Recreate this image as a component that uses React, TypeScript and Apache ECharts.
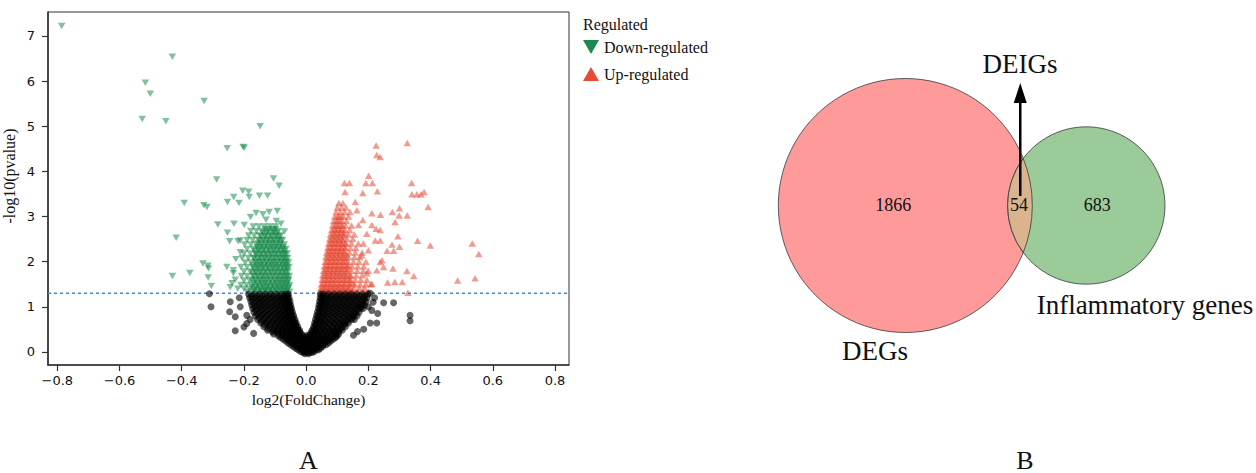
import React, { useEffect, useRef } from "react";
import * as echarts from "echarts";

// ---------------- Panel A data (volcano plot) ----------------
const xTicks = [-0.8, -0.6, -0.4, -0.2, 0, 0.2, 0.4, 0.6, 0.8];
const yTicks = [0, 1, 2, 3, 4, 5, 6, 7];
const pThreshold = 1.3;
const legendTitle = "Regulated";
const downName = "Down-regulated";
const upName = "Up-regulated";

// isolated down-regulated genes [log2FC, -log10 p]
const downLoose: number[][] = [
  [-0.786, 7.22], [-0.43, 6.54], [-0.517, 5.96], [-0.501, 5.72], [-0.328, 5.56], [-0.527, 5.16],
  [-0.451, 5.11], [-0.148, 5.0], [-0.254, 4.51], [-0.203, 4.54], [-0.199, 4.52], [-0.288, 3.82],
  [-0.105, 3.84], [-0.087, 3.68], [-0.204, 3.57], [-0.185, 3.55], [-0.233, 3.43], [-0.183, 3.43],
  [-0.15, 3.46], [-0.124, 3.46], [-0.392, 3.3], [-0.329, 3.25], [-0.319, 3.21], [-0.253, 3.32],
  [-0.216, 3.3], [-0.179, 2.99], [-0.161, 3.08], [-0.139, 3.05], [-0.119, 3.1], [-0.093, 3.12],
  [-0.129, 2.93], [-0.096, 2.9], [-0.284, 2.82], [-0.232, 2.84], [-0.199, 2.81], [-0.081, 2.84],
  [-0.07, 2.67], [-0.253, 2.64], [-0.246, 2.45], [-0.418, 2.53], [-0.212, 2.47], [-0.332, 1.96],
  [-0.316, 1.91], [-0.314, 1.85], [-0.374, 1.75], [-0.43, 1.68], [-0.315, 1.65], [-0.305, 1.46],
  [-0.255, 1.88], [-0.234, 1.74], [-0.244, 1.43], [-0.22, 1.4], [-0.219, 2.45], [-0.212, 2.21],
  [-0.234, 1.81], [-0.226, 2.05], [-0.228, 1.6], [-0.238, 1.52]
];
// down-regulated cloud, rows of [-log10 p, log2FC values]
const downRows: [number, number[]][] = [
  [2.78, [-0.17, -0.152, -0.134, -0.116, -0.098]],
  [2.68, [-0.178, -0.16, -0.142, -0.124, -0.106, -0.09]],
  [2.58, [-0.185, -0.167, -0.149, -0.131, -0.113, -0.096, -0.082]],
  [2.48, [-0.19, -0.172, -0.154, -0.138, -0.122, -0.106, -0.09, -0.076]],
  [2.38, [-0.198, -0.178, -0.16, -0.144, -0.128, -0.112, -0.096, -0.082, -0.07]],
  [2.28, [-0.19, -0.17, -0.152, -0.136, -0.12, -0.104, -0.088, -0.074, -0.065]],
  [2.18, [-0.2, -0.18, -0.162, -0.146, -0.13, -0.114, -0.098, -0.082, -0.068, -0.061]],
  [2.08, [-0.206, -0.186, -0.168, -0.15, -0.134, -0.118, -0.102, -0.086, -0.072, -0.059]],
  [1.98, [-0.196, -0.178, -0.16, -0.143, -0.127, -0.111, -0.095, -0.08, -0.067, -0.057]],
  [1.88, [-0.21, -0.19, -0.172, -0.155, -0.139, -0.123, -0.107, -0.091, -0.076, -0.063, -0.055]],
  [1.78, [-0.2, -0.18, -0.163, -0.147, -0.131, -0.115, -0.099, -0.084, -0.07, -0.058]],
  [1.68, [-0.208, -0.19, -0.172, -0.155, -0.139, -0.123, -0.107, -0.091, -0.076, -0.063, -0.054]],
  [1.58, [-0.2, -0.182, -0.164, -0.147, -0.131, -0.115, -0.099, -0.084, -0.07, -0.057]],
  [1.48, [-0.21, -0.192, -0.174, -0.156, -0.14, -0.124, -0.108, -0.092, -0.077, -0.064, -0.053]],
  [1.4, [-0.2, -0.182, -0.165, -0.148, -0.132, -0.116, -0.1, -0.085, -0.071, -0.058]],
  [1.33, [-0.19, -0.172, -0.155, -0.139, -0.123, -0.107, -0.092, -0.077, -0.064, -0.053]]
];
// densest part of the down-regulated cloud
const downCore: [number, number[]][] = [
  [1.36, [-0.168, -0.156, -0.144, -0.132, -0.12, -0.108, -0.096, -0.084, -0.072, -0.061]],
  [1.44, [-0.174, -0.162, -0.15, -0.138, -0.126, -0.114, -0.102, -0.09, -0.078, -0.066, -0.056]],
  [1.52, [-0.168, -0.156, -0.144, -0.132, -0.12, -0.108, -0.096, -0.084, -0.072, -0.061]],
  [1.6, [-0.174, -0.162, -0.15, -0.138, -0.126, -0.114, -0.102, -0.09, -0.078, -0.066, -0.057]],
  [1.68, [-0.168, -0.156, -0.144, -0.132, -0.12, -0.108, -0.096, -0.084, -0.072, -0.062]],
  [1.76, [-0.172, -0.16, -0.148, -0.136, -0.124, -0.112, -0.1, -0.088, -0.076, -0.065]],
  [1.84, [-0.168, -0.156, -0.144, -0.132, -0.12, -0.108, -0.096, -0.084, -0.072, -0.062]],
  [1.92, [-0.17, -0.158, -0.146, -0.134, -0.122, -0.11, -0.098, -0.086, -0.074, -0.064]],
  [2.0, [-0.165, -0.153, -0.141, -0.129, -0.117, -0.105, -0.093, -0.081, -0.07, -0.062]],
  [2.08, [-0.168, -0.156, -0.144, -0.132, -0.12, -0.108, -0.096, -0.084, -0.073, -0.065]],
  [2.16, [-0.162, -0.15, -0.138, -0.126, -0.114, -0.102, -0.09, -0.078, -0.068]],
  [2.24, [-0.165, -0.153, -0.141, -0.129, -0.117, -0.105, -0.093, -0.081, -0.071]],
  [2.32, [-0.158, -0.146, -0.134, -0.122, -0.11, -0.098, -0.086, -0.075]],
  [2.4, [-0.155, -0.143, -0.131, -0.119, -0.107, -0.095, -0.083]],
  [2.48, [-0.15, -0.138, -0.126, -0.114, -0.102, -0.09, -0.081]],
  [2.56, [-0.145, -0.133, -0.121, -0.109, -0.097, -0.087]],
  [2.64, [-0.14, -0.128, -0.116, -0.104, -0.094]],
  [2.72, [-0.132, -0.12, -0.108, -0.098]]
];

// isolated up-regulated genes
const upLoose: number[][] = [
  [0.225, 4.57], [0.325, 4.63], [0.227, 4.36], [0.238, 4.32], [0.201, 3.9], [0.192, 3.74],
  [0.213, 3.74], [0.123, 3.74], [0.139, 3.74], [0.125, 3.54], [0.182, 3.52], [0.229, 3.56],
  [0.339, 3.74], [0.34, 3.49], [0.356, 3.49], [0.369, 3.49], [0.379, 3.54], [0.392, 3.21],
  [0.277, 3.1], [0.3, 3.18], [0.286, 2.88], [0.299, 3.02], [0.325, 3.02], [0.239, 3.04],
  [0.295, 2.56], [0.3, 2.33], [0.276, 2.38], [0.26, 2.24], [0.281, 2.24], [0.358, 2.46],
  [0.399, 2.36], [0.534, 2.4], [0.555, 2.17], [0.487, 1.58], [0.543, 1.63], [0.324, 1.79],
  [0.346, 1.68], [0.262, 1.54], [0.285, 1.55], [0.309, 1.55], [0.327, 1.31], [0.279, 1.85],
  [0.249, 1.88], [0.238, 1.99], [0.211, 1.51], [0.158, 3.32], [0.163, 3.14], [0.141, 3.1],
  [0.182, 2.92], [0.211, 3.07], [0.168, 2.81], [0.211, 2.81], [0.225, 2.73], [0.238, 2.7],
  [0.195, 2.62], [0.222, 2.47], [0.238, 2.47], [0.184, 2.4], [0.2, 2.25], [0.179, 2.14],
  [0.244, 2.03], [0.227, 1.81], [0.195, 1.74]
];
const upRows: [number, number[]][] = [
  [3.3, [0.105, 0.118]],
  [3.2, [0.1, 0.114, 0.128]],
  [3.1, [0.096, 0.11, 0.124]],
  [3.0, [0.092, 0.106, 0.12, 0.136]],
  [2.9, [0.088, 0.102, 0.116, 0.13]],
  [2.8, [0.085, 0.099, 0.113, 0.127, 0.146]],
  [2.7, [0.082, 0.096, 0.11, 0.124, 0.14]],
  [2.6, [0.078, 0.092, 0.106, 0.12, 0.136, 0.155]],
  [2.5, [0.075, 0.089, 0.103, 0.117, 0.132, 0.15]],
  [2.4, [0.072, 0.086, 0.1, 0.114, 0.129, 0.146, 0.168]],
  [2.3, [0.069, 0.083, 0.097, 0.111, 0.126, 0.142, 0.16]],
  [2.2, [0.066, 0.08, 0.094, 0.108, 0.123, 0.139, 0.158, 0.18]],
  [2.1, [0.063, 0.077, 0.091, 0.105, 0.12, 0.136, 0.155, 0.172]],
  [2.0, [0.061, 0.075, 0.089, 0.103, 0.118, 0.134, 0.152, 0.17, 0.192]],
  [1.9, [0.058, 0.072, 0.086, 0.1, 0.115, 0.131, 0.148, 0.166, 0.185]],
  [1.8, [0.056, 0.07, 0.084, 0.098, 0.113, 0.129, 0.146, 0.164, 0.183, 0.2]],
  [1.7, [0.053, 0.067, 0.081, 0.095, 0.11, 0.126, 0.143, 0.161, 0.18]],
  [1.6, [0.051, 0.065, 0.079, 0.093, 0.108, 0.124, 0.141, 0.158, 0.176, 0.195]],
  [1.5, [0.049, 0.063, 0.077, 0.091, 0.106, 0.122, 0.139, 0.156, 0.174, 0.192, 0.208]],
  [1.42, [0.047, 0.061, 0.075, 0.089, 0.104, 0.12, 0.137, 0.154, 0.171, 0.188]],
  [1.34, [0.045, 0.059, 0.073, 0.087, 0.102, 0.118, 0.134, 0.15, 0.167, 0.184, 0.2]]
];
const upCore: [number, number[]][] = [
  [1.36, [0.052, 0.064, 0.076, 0.088, 0.1, 0.112, 0.124, 0.136, 0.148]],
  [1.44, [0.054, 0.066, 0.078, 0.09, 0.102, 0.114, 0.126, 0.138]],
  [1.52, [0.055, 0.067, 0.079, 0.091, 0.103, 0.115, 0.127, 0.139, 0.15]],
  [1.6, [0.057, 0.069, 0.081, 0.093, 0.105, 0.117, 0.129, 0.14]],
  [1.68, [0.059, 0.071, 0.083, 0.095, 0.107, 0.119, 0.131, 0.142]],
  [1.76, [0.061, 0.073, 0.085, 0.097, 0.109, 0.121, 0.133]],
  [1.84, [0.063, 0.075, 0.087, 0.099, 0.111, 0.123, 0.135]],
  [1.92, [0.065, 0.077, 0.089, 0.101, 0.113, 0.125, 0.136]],
  [2.0, [0.067, 0.079, 0.091, 0.103, 0.115, 0.127]],
  [2.08, [0.069, 0.081, 0.093, 0.105, 0.117, 0.129]],
  [2.16, [0.071, 0.083, 0.095, 0.107, 0.119, 0.13]],
  [2.24, [0.073, 0.085, 0.097, 0.109, 0.121]],
  [2.32, [0.076, 0.088, 0.1, 0.112, 0.124]],
  [2.4, [0.078, 0.09, 0.102, 0.114, 0.125]],
  [2.48, [0.081, 0.093, 0.105, 0.117]],
  [2.56, [0.084, 0.096, 0.108, 0.12]],
  [2.64, [0.087, 0.099, 0.111, 0.122]],
  [2.72, [0.09, 0.102, 0.114]],
  [2.8, [0.093, 0.105, 0.117]],
  [2.9, [0.097, 0.109]],
  [3.0, [0.1, 0.112]]
];

// not significant genes
const nsLoose: number[][] = [
  [-0.311, 1.29], [-0.306, 1.0], [-0.244, 1.11], [-0.246, 0.89], [-0.228, 0.78], [-0.191, 0.63],
  [-0.228, 0.47], [-0.169, 0.41], [-0.191, 0.81], [-0.212, 1.0], [-0.215, 1.2], [-0.2, 0.55],
  [-0.18, 0.72], [0.249, 1.09], [0.281, 1.09], [0.334, 0.81], [0.334, 0.69], [0.206, 0.64],
  [0.227, 0.64], [0.152, 0.37], [0.211, 0.92], [0.2, 1.0], [0.206, 1.3], [0.22, 1.2],
  [0.23, 0.85], [0.185, 0.5], [0.165, 0.45], [0.215, 1.1]
];
const nsRows: [number, number[]][] = [
  [1.28, [-0.185, -0.167, -0.149, -0.131, -0.113, -0.095, -0.078, -0.064, -0.057, 0.046, 0.056, 0.072, 0.09, 0.108, 0.126, 0.144, 0.162, 0.18, 0.198]],
  [1.2, [-0.182, -0.164, -0.146, -0.128, -0.11, -0.092, -0.076, -0.062, -0.055, 0.045, 0.058, 0.075, 0.093, 0.111, 0.129, 0.147, 0.165, 0.183, 0.196]],
  [1.12, [-0.178, -0.16, -0.142, -0.124, -0.106, -0.088, -0.072, -0.06, -0.052, 0.043, 0.056, 0.072, 0.09, 0.108, 0.126, 0.144, 0.162, 0.18, 0.192]],
  [1.04, [-0.175, -0.157, -0.139, -0.121, -0.103, -0.085, -0.069, -0.057, -0.05, 0.041, 0.054, 0.07, 0.088, 0.106, 0.124, 0.142, 0.16, 0.177, 0.188]],
  [0.96, [-0.172, -0.154, -0.136, -0.118, -0.1, -0.083, -0.067, -0.055, -0.047, 0.039, 0.052, 0.068, 0.086, 0.104, 0.122, 0.14, 0.158, 0.174, 0.183]],
  [0.88, [-0.168, -0.15, -0.132, -0.114, -0.096, -0.079, -0.064, -0.052, -0.044, 0.036, 0.05, 0.066, 0.084, 0.102, 0.12, 0.138, 0.156, 0.17]],
  [0.8, [-0.163, -0.145, -0.127, -0.109, -0.091, -0.075, -0.061, -0.049, -0.04, 0.033, 0.047, 0.063, 0.081, 0.099, 0.117, 0.135, 0.152, 0.164]],
  [0.72, [-0.156, -0.138, -0.12, -0.102, -0.085, -0.07, -0.056, -0.045, -0.036, 0.03, 0.043, 0.059, 0.077, 0.095, 0.113, 0.131, 0.146, 0.155]],
  [0.64, [-0.146, -0.128, -0.11, -0.093, -0.077, -0.063, -0.05, -0.04, -0.032, 0.027, 0.04, 0.055, 0.072, 0.09, 0.108, 0.124, 0.136]],
  [0.56, [-0.136, -0.118, -0.1, -0.084, -0.07, -0.056, -0.044, -0.034, -0.027, 0.024, 0.036, 0.051, 0.067, 0.084, 0.1, 0.115, 0.126]],
  [0.48, [-0.124, -0.106, -0.09, -0.075, -0.061, -0.048, -0.037, -0.028, -0.021, 0.019, 0.031, 0.045, 0.06, 0.076, 0.092, 0.106, 0.116]],
  [0.4, [-0.105, -0.089, -0.074, -0.06, -0.047, -0.035, -0.025, -0.016, 0.013, 0.025, 0.038, 0.052, 0.067, 0.082, 0.096, 0.105]],
  [0.32, [-0.082, -0.067, -0.053, -0.04, -0.028, -0.017, -0.007, 0.004, 0.015, 0.028, 0.042, 0.056, 0.07, 0.084, 0.095]],
  [0.24, [-0.066, -0.053, -0.04, -0.028, -0.017, -0.006, 0.005, 0.016, 0.028, 0.041, 0.054, 0.067, 0.079]],
  [0.16, [-0.05, -0.038, -0.026, -0.014, -0.003, 0.008, 0.019, 0.031, 0.043, 0.055, 0.064]],
  [0.08, [-0.034, -0.022, -0.011, 0.0, 0.011, 0.022, 0.034, 0.046]],
  [0.01, [-0.018, -0.007, 0.004, 0.015, 0.026]],
  [-0.04, [-0.004, 0.008]],
  [1.24, [-0.176, -0.158, -0.14, -0.122, -0.104, -0.086, -0.07, -0.06, 0.05, 0.064, 0.081, 0.099, 0.117, 0.135, 0.153, 0.171, 0.189]],
  [1.16, [-0.173, -0.155, -0.137, -0.119, -0.101, -0.083, -0.068, -0.058, 0.049, 0.064, 0.081, 0.099, 0.117, 0.135, 0.153, 0.171, 0.187]],
  [1.08, [-0.169, -0.151, -0.133, -0.115, -0.097, -0.08, -0.065, -0.055, 0.047, 0.062, 0.079, 0.097, 0.115, 0.133, 0.151, 0.169, 0.183]],
  [1.0, [-0.166, -0.148, -0.13, -0.112, -0.094, -0.077, -0.062, -0.052, 0.045, 0.06, 0.077, 0.095, 0.113, 0.131, 0.149, 0.166, 0.178]],
  [0.92, [-0.162, -0.144, -0.126, -0.108, -0.09, -0.073, -0.059, -0.049, 0.043, 0.058, 0.075, 0.093, 0.111, 0.129, 0.147, 0.163]],
  [0.84, [-0.157, -0.139, -0.121, -0.103, -0.086, -0.07, -0.056, -0.046, 0.04, 0.055, 0.072, 0.09, 0.108, 0.126, 0.144, 0.158]],
  [0.76, [-0.151, -0.133, -0.115, -0.097, -0.081, -0.066, -0.053, -0.042, 0.037, 0.051, 0.068, 0.086, 0.104, 0.122, 0.139, 0.15]],
  [0.68, [-0.143, -0.125, -0.107, -0.09, -0.075, -0.061, -0.048, -0.038, 0.034, 0.048, 0.064, 0.082, 0.1, 0.118, 0.132]],
  [0.6, [-0.133, -0.115, -0.098, -0.082, -0.068, -0.055, -0.043, -0.033, 0.03, 0.044, 0.059, 0.076, 0.093, 0.11, 0.122]],
  [0.52, [-0.122, -0.105, -0.089, -0.075, -0.061, -0.049, -0.038, -0.028, 0.025, 0.038, 0.053, 0.069, 0.085, 0.1, 0.112]],
  [0.44, [-0.108, -0.093, -0.078, -0.065, -0.053, -0.042, -0.031, -0.021, 0.018, 0.031, 0.045, 0.06, 0.075, 0.09, 0.102]],
  [0.36, [-0.09, -0.076, -0.062, -0.05, -0.039, -0.029, -0.019, -0.009, 0.002, 0.012, 0.023, 0.036, 0.05, 0.064, 0.078, 0.092, 0.1]],
  [0.28, [-0.074, -0.06, -0.047, -0.035, -0.024, -0.013, -0.002, 0.01, 0.022, 0.035, 0.048, 0.062, 0.075, 0.087]],
  [0.2, [-0.058, -0.045, -0.033, -0.021, -0.01, 0.001, 0.013, 0.025, 0.037, 0.049, 0.06, 0.072]],
  [0.12, [-0.042, -0.03, -0.018, -0.006, 0.005, 0.017, 0.029, 0.041, 0.053]],
  [0.05, [-0.026, -0.014, -0.003, 0.009, 0.021, 0.033, 0.04]],
  [-0.01, [-0.01, 0.0, 0.01, 0.02]]
];

// ---------------- Panel B data (Venn) ----------------
const vennNames = ["DEGs", "Inflammatory genes"];
const vennOnly = [1866, 683];
const vennShared = 54;
const vennSharedName = "DEIGs";
const panelLabels = ["A", "B"];

const expand = (rows: [number, number[]][]) => {
  const out: number[][] = [];
  rows.forEach(([y, xs]) => xs.forEach((x) => out.push([x, y])));
  return out;
};

const fmtX = (v: number) => {
  const r = Math.round(v * 10) / 10;
  return r < 0 ? "\u2212" + Math.abs(r).toFixed(1) : r.toFixed(1);
};

const SERIF = "'Liberation Serif', 'Times New Roman', serif";
const SANS = "'DejaVu Sans', sans-serif";

export default function App() {
  const ref = useRef<HTMLDivElement>(null);

  useEffect(() => {
    if (!ref.current) return;

    // Venn geometry: radii proportional to sqrt of set sizes
    const totals = vennOnly.map((v) => v + vennShared);
    const K = 127 / Math.sqrt(totals[0]);
    const r1 = K * Math.sqrt(totals[0]);
    const r2 = K * Math.sqrt(totals[1]);
    const cy = 205.5;
    const c1x = 905.3;
    const c2x = 1086.3;
    const d = c2x - c1x;
    const a = (d * d + r1 * r1 - r2 * r2) / (2 * d);
    const h = Math.sqrt(r1 * r1 - a * a);
    const ix = c1x + a;
    const lensD = `M${ix},${cy - h} A${r1},${r1} 0 0 1 ${ix},${cy + h} A${r2},${r2} 0 0 1 ${ix},${cy - h} Z`;
    echarts.graphic.registerShape("vennLens", echarts.graphic.extendPath(lensD, {}));
    const lensMidX = ((c2x - r2) + (c1x + r1)) / 2;

    const chart = echarts.init(ref.current, undefined, { renderer: "svg" });
    const txt = (text: string, x: number, y: number, size: number, align = "center") => ({
      type: "text",
      style: {
        text, x, y, fill: "#111", fontSize: size, fontFamily: SERIF,
        align, verticalAlign: "middle", textAlign: align, textVerticalAlign: "middle"
      },
      z: 20
    });

    chart.setOption({
      animation: false,
      backgroundColor: "#fff",
      grid: { left: 48, right: 687, top: 12, bottom: 108, show: true, borderColor: "#333", borderWidth: 1 },
      legend: {
        left: 583, top: 39, padding: 0, orient: "vertical", itemWidth: 16, itemHeight: 14, itemGap: 11,
        textStyle: { fontFamily: SERIF, fontSize: 16, color: "#111" },
        itemStyle: { opacity: 1 },
        data: [
          { name: downName, icon: "path://M0,0L16,0L8,14Z" },
          { name: upName, icon: "path://M8,0L16,14L0,14Z" }
        ]
      },
      xAxis: {
        type: "value", min: -0.83, max: 0.845,
        splitLine: { show: false },
        axisLine: { show: true, onZero: false, lineStyle: { color: "#333", width: 1.6 } },
        axisTick: { show: true, length: 6, customValues: xTicks, lineStyle: { color: "#333", width: 1.2 } },
        axisLabel: { customValues: xTicks, formatter: fmtX, fontFamily: SANS, fontSize: 13, color: "#111", margin: 9 },
        name: "log2(FoldChange)", nameLocation: "middle", nameGap: 26,
        nameTextStyle: { fontFamily: SERIF, fontSize: 15.5, color: "#111" }
      },
      yAxis: {
        type: "value", min: -0.29, max: 7.53,
        splitLine: { show: false },
        axisLine: { show: true, onZero: false, lineStyle: { color: "#333", width: 1.6 } },
        axisTick: { show: true, length: 6, customValues: yTicks, lineStyle: { color: "#333", width: 1.2 } },
        axisLabel: { customValues: yTicks, formatter: (v: number) => String(Math.round(v)), fontFamily: SANS, fontSize: 13, color: "#111", margin: 13 },
        name: "-log10(pvalue)", nameLocation: "middle", nameGap: 31,
        nameTextStyle: { fontFamily: SERIF, fontSize: 16, color: "#111", padding: [0, 0, 0, 25] }
      },
      series: [
        {
          type: "line", name: "threshold", silent: true, symbol: "none", z: 1,
          data: [[-0.83, pThreshold], [0.845, pThreshold]],
          lineStyle: { color: "#3b8ed4", width: 1.5, type: [3, 3] }
        },
        {
          type: "scatter", name: downName, data: [...expand(downRows), ...expand(downCore), ...downLoose],
          symbol: "triangle", symbolRotate: 180, symbolSize: [7.5, 6.5], z: 3,
          itemStyle: { color: "#1b8a4c", opacity: 0.55 }
        },
        {
          type: "scatter", name: upName, data: [...expand(upRows), ...expand(upCore), ...upLoose],
          symbol: "triangle", symbolSize: [7.5, 6.5], z: 3,
          itemStyle: { color: "#e64b35", opacity: 0.55 }
        },
        {
          type: "scatter", name: "Not significant", data: [...expand(nsRows), ...nsLoose],
          symbol: "circle", symbolSize: 7, z: 4,
          itemStyle: { color: "#000", opacity: 0.6 }
        }
      ],
      graphic: [
        txt(legendTitle, 583, 24, 16, "left"),
        { type: "circle", shape: { cx: c1x, cy, r: r1 }, style: { fill: "#ff9a9a", stroke: "#3a3a3a", lineWidth: 0.8 }, z: 10 },
        { type: "circle", shape: { cx: c2x, cy, r: r2 }, style: { fill: "#9acb98", stroke: "#3a3a3a", lineWidth: 0.8 }, z: 10 },
        { type: "vennLens", x: 0, y: 0, style: { fill: "#d9b48f", stroke: "#3a3a3a", lineWidth: 0.8 }, z: 11 },
        txt(String(vennOnly[0]), c1x - 12, cy - 1, 18),
        txt(String(vennOnly[1]), c2x + 11, cy - 1, 18),
        txt(String(vennShared), lensMidX - 1, cy - 1, 18),
        { type: "line", shape: { x1: ix - 3, y1: 196, x2: ix - 3, y2: 100 }, style: { stroke: "#000", lineWidth: 2.5 }, z: 21 },
        { type: "polygon", shape: { points: [[ix - 9.5, 103], [ix + 3.5, 103], [ix - 3, 83]] }, style: { fill: "#000" }, z: 21 },
        txt(vennSharedName, 1020, 64, 27),
        txt(vennNames[0], 875, 351, 27),
        txt(vennNames[1], 1145, 305, 27),
        txt(panelLabels[0], 308.5, 460, 26),
        txt(panelLabels[1], 1025, 460, 26)
      ]
    });

    return () => chart.dispose();
  }, []);

  return (
    <div
      ref={ref}
      style={{ position: "fixed", left: 0, top: 0, width: 1256, height: 473, background: "#fff" }}
    />
  );
}
